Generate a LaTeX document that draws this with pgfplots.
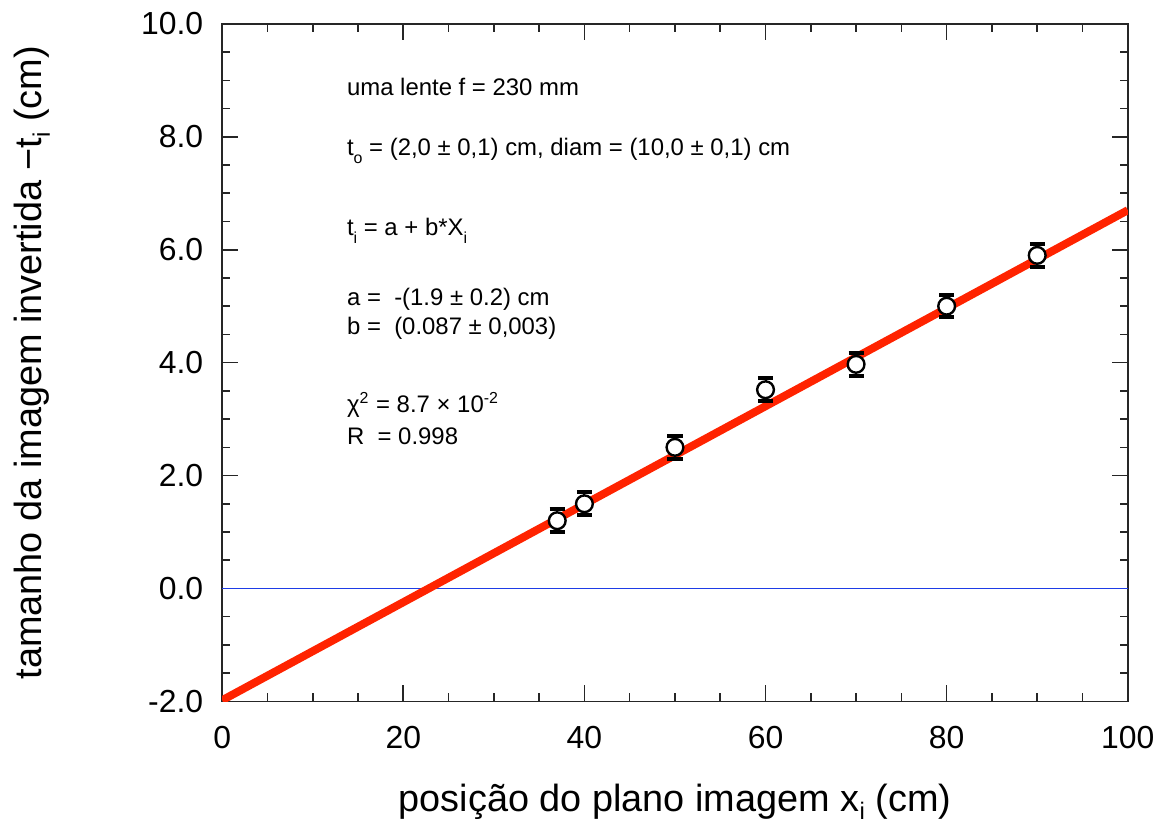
\documentclass[border=0pt]{standalone}
\usepackage{pgfplots}
\pgfplotsset{compat=1.18}
\usepackage{fontspec}
\setmainfont{Liberation Sans}
\definecolor{fitred}{RGB}{255,35,0}
\definecolor{zeroblue}{RGB}{30,60,230}
\pgfplotstableread{
x y e
37 1.2 0.2
40 1.5 0.2
50 2.5 0.2
60 3.52 0.2
70 3.97 0.2
80 5.0 0.2
90 5.9 0.2
}\datatable
\begin{document}
\begin{tikzpicture}
\begin{axis}[
  scale only axis, width=454.5pt, height=340pt,
  xmin=0, xmax=100, ymin=-2, ymax=10,
  xtick={0,20,40,60,80,100}, minor x tick num=3,
  ytick={-2,0,2,4,6,8,10}, minor y tick num=3,
  xticklabels={0,20,40,60,80,100},
  yticklabels={-2.0,0.0,2.0,4.0,6.0,8.0,10.0},
  tick align=inside, major tick length=8pt, minor tick length=4pt,
  every tick/.style={black!85, line width=0.8pt},
  axis line style={black!85, line width=0.8pt},
  ticklabel style={font=\fontsize{16}{16}\selectfont},
  yticklabel style={xshift=-6pt},
  xticklabel style={yshift=-9pt},
  xlabel={posição do plano imagem x\raisebox{-4pt}{\fontsize{12}{12}\selectfont i} (cm)},
  ylabel={tamanho da imagem invertida −t\raisebox{-4pt}{\fontsize{12}{12}\selectfont i} (cm)},
  xlabel style={at={(axis description cs:0.5,-0.1632)}, anchor=base, font=\fontsize{19}{19}\selectfont},
  ylabel style={at={(axis description cs:-0.1991,0.5)}, anchor=base, font=\fontsize{19}{19}\selectfont},
]
\addplot[zeroblue, line width=0.9pt] coordinates {(0,0) (100,0)};
\addplot[fitred, line width=4pt] coordinates {(0,-1.98) (100,6.7)};
\addplot[draw=none, mark=none,
  error bars/.cd, y dir=both, y explicit,
  error bar style={black, line width=1pt},
  error mark options={rotate=90, mark size=3.8pt, line width=2pt, black}]
  table[x=x, y=y, y error=e] {\datatable};
\addplot[only marks, mark=*, mark size=4.2pt, mark options={fill=white, draw=black, line width=1.2pt}]
  table[x=x, y=y] {\datatable};
\begin{scope}[every node/.style={anchor=west, font=\fontsize{12}{14}\selectfont, inner sep=0pt}]
\node at (axis cs:13.75,8.89) {uma lente f = 230 mm};
\node at (axis cs:13.75,7.75) {t\raisebox{-4pt}{\fontsize{8}{8}\selectfont o} = (2,0 ± 0,1) cm, diam = (10,0 ± 0,1) cm};
\node at (axis cs:13.75,6.33) {t\raisebox{-4pt}{\fontsize{8}{8}\selectfont i} = a + b*X\raisebox{-4pt}{\fontsize{8}{8}\selectfont i}};
\node at (axis cs:13.75,5.13) {a =\ \ -(1.9 ± 0.2) cm};
\node at (axis cs:13.75,4.60) {b =\ \ (0.087 ± 0,003)};
\node at (axis cs:13.75,3.25) {χ\textsuperscript{2} = 8.7 × 10\textsuperscript{-2}};
\node at (axis cs:13.75,2.69) {R\ \ = 0.998};
\end{scope}
\end{axis}
\path ([shift={(-111.5pt,-63.5pt)}]current axis.south west) rectangle ([shift={(14.5pt,12pt)}]current axis.north east);
\end{tikzpicture}
\end{document}
